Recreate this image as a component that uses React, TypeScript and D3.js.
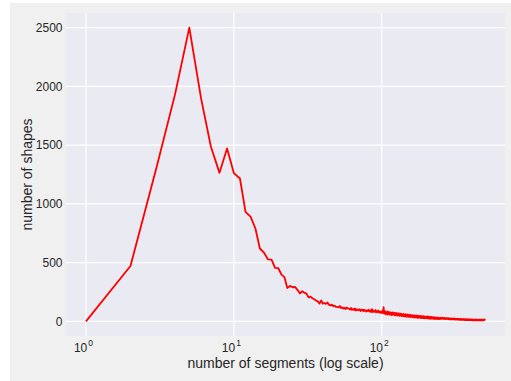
import React, { useEffect, useRef } from "react";
import * as d3 from "d3";

// number of shapes for each segment count 1..500
const shapeCounts: number[] = [
  0, 471, 1310, 1930, 2500, 1900, 1486, 1264, 1472, 1262,
  1216, 932, 889, 790, 620, 584, 528, 526, 455, 452,
  398, 376, 284, 302, 290, 292, 266, 238, 256, 244,
  236, 204, 210, 196, 188, 176, 170, 151, 178, 150,
  156, 148, 160, 140, 136, 142, 128, 134, 124, 122,
  118, 130, 112, 120, 108, 116, 104, 118, 110, 108,
  100, 114, 98, 106, 96, 110, 92, 102, 96, 94,
  104, 88, 98, 92, 100, 86, 96, 90, 84, 94,
  88, 98, 82, 92, 80, 104, 78, 90, 84, 80,
  96, 76, 86, 80, 92, 74, 84, 78, 70, 84,
  88, 70, 120, 66, 86, 62, 80, 68, 58, 84,
  64, 76, 56, 78, 60, 72, 52, 76, 58, 66,
  74, 54, 68, 50, 72, 56, 66, 48, 70, 54,
  62, 46, 68, 50, 60, 44, 64, 48, 58, 42,
  62, 46, 56, 40, 60, 44, 54, 38, 58, 44,
  52, 38, 56, 42, 50, 36, 54, 40, 48, 36,
  52, 38, 46, 34, 50, 36, 48, 32, 46, 38,
  50, 34, 44, 30, 48, 36, 42, 30, 46, 34,
  44, 30, 46, 32, 40, 28, 44, 34, 38, 28,
  44, 30, 38, 26, 42, 32, 36, 28, 40, 30,
  40, 28, 38, 26, 42, 28, 36, 24, 40, 28,
  36, 24, 38, 28, 34, 22, 38, 26, 32, 24,
  36, 24, 32, 22, 36, 26, 30, 20, 34, 26,
  30, 22, 34, 24, 30, 20, 32, 24, 28, 20,
  32, 22, 28, 20, 30, 24, 26, 18, 30, 22,
  28, 24, 30, 26, 22, 28, 26, 30, 24, 26,
  22, 28, 24, 26, 20, 28, 24, 22, 26, 24,
  20, 26, 24, 22, 28, 20, 24, 22, 26, 20,
  24, 22, 18, 26, 22, 20, 24, 18, 22, 24,
  20, 22, 18, 24, 20, 22, 16, 24, 20, 18,
  22, 20, 16, 22, 18, 24, 20, 16, 22, 18,
  20, 16, 22, 18, 14, 20, 18, 22, 16, 18,
  20, 14, 18, 22, 16, 18, 14, 20, 18, 16,
  20, 14, 18, 16, 20, 12, 18, 16, 14, 20,
  16, 18, 12, 16, 20, 14, 16, 18, 12, 16,
  18, 14, 16, 12, 18, 14, 16, 20, 12, 16,
  14, 18, 12, 16, 14, 10, 16, 14, 18, 12,
  16, 14, 10, 16, 12, 18, 14, 12, 16, 10,
  14, 16, 12, 10, 16, 14, 12, 16, 10, 14,
  12, 16, 10, 14, 12, 16, 10, 14, 12, 10,
  14, 12, 16, 10, 12, 14, 8, 14, 12, 10,
  14, 10, 12, 16, 8, 12, 14, 10, 12, 8,
  12, 14, 10, 12, 8, 14, 10, 12, 10, 14,
  8, 12, 10, 14, 10, 8, 12, 10, 14, 8,
  12, 10, 8, 14, 10, 12, 8, 10, 12, 10,
  14, 8, 10, 12, 8, 12, 10, 14, 8, 10,
  12, 10, 8, 12, 10, 14, 8, 12, 10, 8,
  12, 10, 14, 8, 10, 12, 8, 12, 10, 14,
  10, 8, 12, 10, 14, 8, 12, 10, 12, 8,
  12, 10, 14, 10, 12, 16, 12, 14, 18, 20,
];
const xTicks = [1, 10, 100];
const xTickExp = ["0", "1", "2"];
const yTicks = [0, 500, 1000, 1500, 2000, 2500];

const W = 511;
const H = 381;

const App = () => {
  const svgRef = useRef<SVGSVGElement>(null);

  useEffect(() => {
    const plot = { left: 66, right: 505, top: 13, bottom: 336 };
    const font = "'Liberation Sans', Arial, sans-serif";
    const textColor = "#262626";

    const svg = d3.select(svgRef.current);
    svg.selectAll("*").remove();

    svg.append("rect").attr("width", W).attr("height", H).attr("fill", "#ffffff");
    svg
      .append("rect")
      .attr("x", 10)
      .attr("y", 3)
      .attr("width", W - 10)
      .attr("height", H - 3)
      .attr("fill", "#f0f0f0");

    const data = shapeCounts.map((v, i) => ({ n: i + 1, v }));
    const logMax = Math.log10(data.length);

    // matplotlib-style 5% margins
    const x = d3
      .scaleLog()
      .domain([Math.pow(10, -0.05 * logMax), Math.pow(10, 1.05 * logMax)])
      .range([plot.left, plot.right]);
    const y = d3
      .scaleLinear()
      .domain([-125, 2625])
      .range([plot.bottom, plot.top]);

    svg
      .append("rect")
      .attr("x", plot.left)
      .attr("y", plot.top)
      .attr("width", plot.right - plot.left)
      .attr("height", plot.bottom - plot.top)
      .attr("fill", "#eaeaf2");

    const grid = svg.append("g").attr("stroke", "#ffffff").attr("stroke-width", 1.2);
    grid
      .selectAll("line.y")
      .data(yTicks)
      .enter()
      .append("line")
      .attr("x1", plot.left)
      .attr("x2", plot.right)
      .attr("y1", (d) => y(d))
      .attr("y2", (d) => y(d));
    grid
      .selectAll("line.x")
      .data(xTicks)
      .enter()
      .append("line")
      .attr("x1", (d) => x(d))
      .attr("x2", (d) => x(d))
      .attr("y1", plot.top)
      .attr("y2", plot.bottom);

    const line = d3
      .line<{ n: number; v: number }>()
      .x((d) => x(d.n))
      .y((d) => y(d.v));

    svg
      .append("path")
      .datum(data)
      .attr("d", line)
      .attr("fill", "none")
      .attr("stroke", "#ff0000")
      .attr("stroke-width", 1.8)
      .attr("stroke-linejoin", "round");

    // y tick labels
    svg
      .append("g")
      .selectAll("text")
      .data(yTicks)
      .enter()
      .append("text")
      .attr("x", plot.left - 3.5)
      .attr("y", (d) => y(d))
      .attr("dy", "0.35em")
      .attr("text-anchor", "end")
      .attr("font-family", font)
      .attr("font-size", 12)
      .attr("fill", textColor)
      .text((d) => d);

    // x tick labels as 10^k
    const xt = svg
      .append("g")
      .selectAll("text")
      .data(xTicks)
      .enter()
      .append("text")
      .attr("x", (d) => x(d) - 2.5)
      .attr("y", 352)
      .attr("text-anchor", "middle")
      .attr("font-family", font)
      .attr("font-size", 12)
      .attr("fill", textColor);
    xt.append("tspan").text("10");
    xt.append("tspan")
      .attr("dy", -6)
      .attr("dx", 1)
      .attr("font-size", 8.5)
      .text((d, i) => xTickExp[i]);

    svg
      .append("text")
      .attr("x", (plot.left + plot.right) / 2)
      .attr("y", 368)
      .attr("text-anchor", "middle")
      .attr("font-family", font)
      .attr("font-size", 14)
      .attr("fill", textColor)
      .text("number of segments (log scale)");

    svg
      .append("text")
      .attr("transform", `translate(32,${(plot.top + plot.bottom) / 2}) rotate(-90)`)
      .attr("text-anchor", "middle")
      .attr("font-family", font)
      .attr("font-size", 14)
      .attr("fill", textColor)
      .text("number of shapes");
  }, []);

  return (
    <svg
      ref={svgRef}
      width={W}
      height={H}
      style={{ position: "absolute", left: 0, top: 0, display: "block" }}
    ></svg>
  );
};

export default App;
